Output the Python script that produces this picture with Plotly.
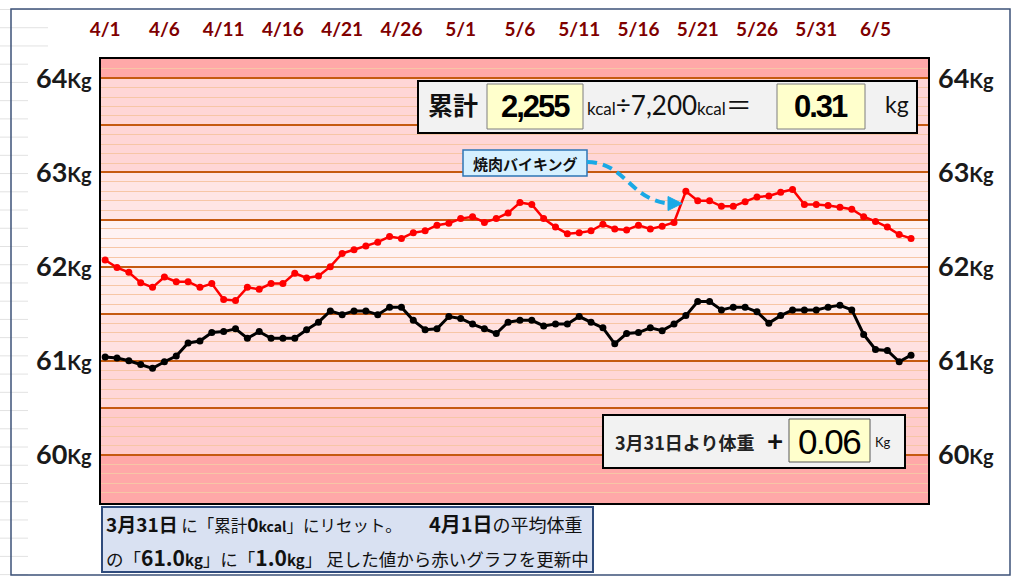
import plotly.graph_objects as go

# ---------------- data ----------------
tick_days = [0, 5, 10, 15, 20, 25, 30, 35, 40, 45, 50, 55, 60, 65]
tick_labels = ["4/1", "4/6", "4/11", "4/16", "4/21", "4/26", "5/1", "5/6",
               "5/11", "5/16", "5/21", "5/26", "5/31", "6/5"]

red_weight = [62.07, 61.99, 61.94, 61.83, 61.78, 61.89, 61.84, 61.84, 61.78, 61.82,
              61.65, 61.64, 61.78, 61.76, 61.82, 61.82, 61.93, 61.88, 61.90, 62.00,
              62.14, 62.18, 62.22, 62.26, 62.32, 62.30, 62.36, 62.38, 62.44, 62.46,
              62.51, 62.53, 62.47, 62.51, 62.57, 62.68, 62.66, 62.51, 62.42, 62.35,
              62.36, 62.38, 62.45, 62.40, 62.39, 62.44, 62.40, 62.43, 62.47, 62.80,
              62.70, 62.70, 62.64, 62.64, 62.69, 62.74, 62.75, 62.79, 62.82, 62.66,
              62.66, 62.65, 62.63, 62.61, 62.53, 62.48, 62.42, 62.34, 62.30]

black_weight = [61.04, 61.03, 61.00, 60.96, 60.92, 60.99, 61.05, 61.19, 61.21, 61.30,
                61.31, 61.34, 61.24, 61.31, 61.24, 61.24, 61.24, 61.33, 61.41, 61.53,
                61.49, 61.53, 61.53, 61.49, 61.57, 61.57, 61.43, 61.33, 61.34, 61.47,
                61.45, 61.39, 61.34, 61.29, 61.41, 61.43, 61.43, 61.37, 61.39, 61.39,
                61.47, 61.41, 61.35, 61.18, 61.29, 61.30, 61.35, 61.32, 61.39, 61.48,
                61.63, 61.63, 61.54, 61.57, 61.57, 61.52, 61.40, 61.48, 61.54, 61.54,
                61.54, 61.57, 61.59, 61.54, 61.28, 61.12, 61.11, 60.99, 61.06]

days = list(range(len(red_weight)))
y_ticks = [60, 61, 62, 63, 64]
grid_major = [59.5, 60, 60.5, 61, 61.5, 62, 62.5, 63, 63.5, 64]

total_kcal = "2,255"
kg_equiv = "0.31"
diff_kg = "0.06"
event_label = "焼肉バイキング"

# ---------------- geometry helpers (pixels -> paper) ----------------
W, H = 1024, 586
L, R, T, B = 101, 928, 59, 503


def px(x):
    return (x - L) / (R - L)


def py(y):
    return (B - y) / (B - T)


JP = "'Noto Sans CJK JP', Lato, sans-serif"
LAT = "Lato, 'Noto Sans CJK JP', sans-serif"
NARROW = "'Liberation Sans Narrow', 'Liberation Sans', Arial, sans-serif"

fig = go.Figure()

fig.add_trace(go.Scatter(x=days, y=black_weight, mode="lines+markers",
                         line=dict(color="#000000", width=3),
                         marker=dict(color="#000000", size=7),
                         showlegend=False, hoverinfo="skip"))
fig.add_trace(go.Scatter(x=days, y=red_weight, mode="lines+markers",
                         line=dict(color="#FF0000", width=2.5),
                         marker=dict(color="#FF0000", size=7),
                         showlegend=False, hoverinfo="skip"))
# dummy trace for right axis
fig.add_trace(go.Scatter(x=[None], y=[None], yaxis="y2", showlegend=False,
                         hoverinfo="skip"))

tick_font_y = dict(family=LAT, size=27, color="#1A1A1A")
ylab = [f"<b>{v}<span style='font-size:20px'>Kg</span></b>" for v in y_ticks]
ymaj_text = [ylab[y_ticks.index(v)] if v in y_ticks else "" for v in grid_major]

shapes = []
# background bands
bands = [(64.0, 64.4, "#FFA8A8"), (63.0, 64.0, "#FFD6D6"), (62.5, 63.0, "#FFE5E5"),
         (62.0, 62.5, "#FFF2F2"), (61.5, 62.0, "#FFEBEB"), (61.0, 61.5, "#FFE1E1"),
         (60.5, 61.0, "#FFD7D7"), (60.0, 60.5, "#FFCBCB"), (59.3, 60.0, "#FFA8A8")]
for y0, y1, c in bands:
    shapes.append(dict(type="rect", xref="paper", yref="y", x0=0, x1=1, y0=y0, y1=y1,
                       fillcolor=c, line=dict(width=0), layer="below"))

# outer frame and faint worksheet lines
for i in range(32):
    yy = 9.5 + 18.23 * i
    if yy > 576:
        break
    xe = 48 if yy < 50 else 28
    shapes.append(dict(type="line", xref="paper", yref="paper", x0=px(0), x1=px(xe),
                       y0=py(yy), y1=py(yy), line=dict(color="#E2E2E2", width=1)))
shapes.append(dict(type="rect", xref="paper", yref="paper", x0=px(11), x1=px(1010),
                   y0=py(575), y1=py(9), line=dict(color="#3D5278", width=1.5)))

# top summary box
shapes.append(dict(type="rect", xref="paper", yref="paper", x0=px(418), x1=px(917),
                   y0=py(133), y1=py(81), fillcolor="#F2F2F2",
                   line=dict(color="#000000", width=2)))
for x0, x1 in [(487, 583), (777, 865)]:
    shapes.append(dict(type="rect", xref="paper", yref="paper", x0=px(x0), x1=px(x1),
                       y0=py(129), y1=py(84), fillcolor="#FFFFCC",
                       line=dict(color="#7F7F7F", width=1)))

# callout box
shapes.append(dict(type="rect", xref="paper", yref="paper", x0=px(463), x1=px(587),
                   y0=py(176), y1=py(150), fillcolor="#D6F0FF",
                   line=dict(color="#2E75B6", width=1.5)))
CY = "#1AA9E6"
shapes.append(dict(type="path", xref="paper", yref="paper",
                   path=f"M {px(587)},{py(162)} C {px(625)},{py(162)} {px(630)},{py(200)} {px(669)},{py(203.5)}",
                   line=dict(color=CY, width=4, dash="10px,6px")))
shapes.append(dict(type="path", xref="paper", yref="paper",
                   path=f"M {px(668)},{py(196.5)} L {px(682)},{py(203.5)} L {px(668)},{py(210.5)} Z",
                   fillcolor=CY, line=dict(color=CY, width=1)))

# bottom-right box
shapes.append(dict(type="rect", xref="paper", yref="paper", x0=px(603), x1=px(905),
                   y0=py(468), y1=py(415), fillcolor="#F2F2F2",
                   line=dict(color="#000000", width=2)))
shapes.append(dict(type="rect", xref="paper", yref="paper", x0=px(789), x1=px(870),
                   y0=py(462), y1=py(419), fillcolor="#FFFFCC",
                   line=dict(color="#595959", width=1)))

# bottom-left note box
shapes.append(dict(type="rect", xref="paper", yref="paper", x0=px(102), x1=px(593),
                   y0=py(572), y1=py(507), fillcolor="#D9E1F2",
                   line=dict(color="#2F4B7C", width=2)))

ann = []


def text(x, y, s, size, family=JP, anchor="center", color="#111111"):
    ann.append(dict(x=px(x), y=py(y), xref="paper", yref="paper", text=s,
                    showarrow=False, xanchor=anchor, yanchor="middle",
                    font=dict(size=size, family=family, color=color)))


text(453, 104, "<b>累計</b>", 25)
text(535, 106, f"<b><span style='letter-spacing:-2px'>{total_kcal}</span></b>", 31, NARROW, color="#000000")
text(585, 105, "<span style='font-size:17px'>kcal</span>÷7,200<span style='font-size:17px'>kcal</span>＝",
     26, LAT, "left")
text(821, 106, f"<b><span style='letter-spacing:-2px'>{kg_equiv}</span></b>", 31, NARROW, color="#000000")
text(897, 104, "kg", 23, LAT)

text(525, 163, f"<b>{event_label}</b>", 15)

text(613, 442, "<b>3月31日より体重</b>", 18, JP, "left", "#222222")
text(775, 440, "<b>+</b>", 28, LAT)
text(829, 441, f"<span style='letter-spacing:-1.5px'>{diff_kg}</span>", 35, NARROW, color="#000000")
text(873, 442, "Kg", 13, LAT, "left")

line1a = ("<b><span style='font-size:19px'>3月31日</span></b> に「累計<b><span style='font-size:19px'>0</span>"
          "<span style='font-size:14px'>kcal</span></b>」にリセット。")
line1b = "<b><span style='font-size:20px'>4月1日</span></b>の平均体重"
line2 = ("の「<b><span style='font-size:21px'>61.0</span><span style='font-size:15px'>kg</span></b>」に「"
         "<b><span style='font-size:21px'>1.0</span><span style='font-size:15px'>kg</span></b>」 足した値から赤いグラフを更新中")
text(104, 523, line1a, 16.5, JP, "left")
text(427, 523, line1b, 18, JP, "left")
text(104, 557, line2, 17.5, JP, "left")

fig.update_layout(
    width=W, height=H,
    margin=dict(l=L, r=W - R, t=T, b=H - B, pad=0),
    paper_bgcolor="#FFFFFF", plot_bgcolor="#FFFFFF",
    font=dict(family=LAT),
    showlegend=False,
    shapes=shapes,
    annotations=ann,
    xaxis=dict(range=[-0.35, 69.43], side="top", tickmode="array",
               tickvals=tick_days, ticktext=[f"<b>{t}</b>" for t in tick_labels],
               tickfont=dict(family=LAT, size=19, color="#7F0000"),
               ticks="", ticklabelstandoff=13, showgrid=False, zeroline=False,
               showline=True, mirror=True, linecolor="#000000", linewidth=2),
    yaxis=dict(range=[59.49, 64.205], tickmode="array", tickvals=grid_major,
               ticktext=ymaj_text, tickfont=tick_font_y, ticks="",
               ticklabelstandoff=2, showgrid=True, gridcolor="#C55A11", gridwidth=2,
               zeroline=False, showline=True, mirror=True, linecolor="#000000",
               linewidth=2,
               minor=dict(tickmode="linear", tick0=59.5, dtick=0.1, showgrid=True,
                          gridcolor="#F7C6A6", gridwidth=1, ticks="")),
    yaxis2=dict(range=[59.49, 64.205], overlaying="y", side="right", tickmode="array",
                tickvals=y_ticks, ticktext=ylab, tickfont=tick_font_y, ticks="",
                ticklabelstandoff=9, showgrid=False, zeroline=False, showline=False),
)

fig.write_html("out.html")
